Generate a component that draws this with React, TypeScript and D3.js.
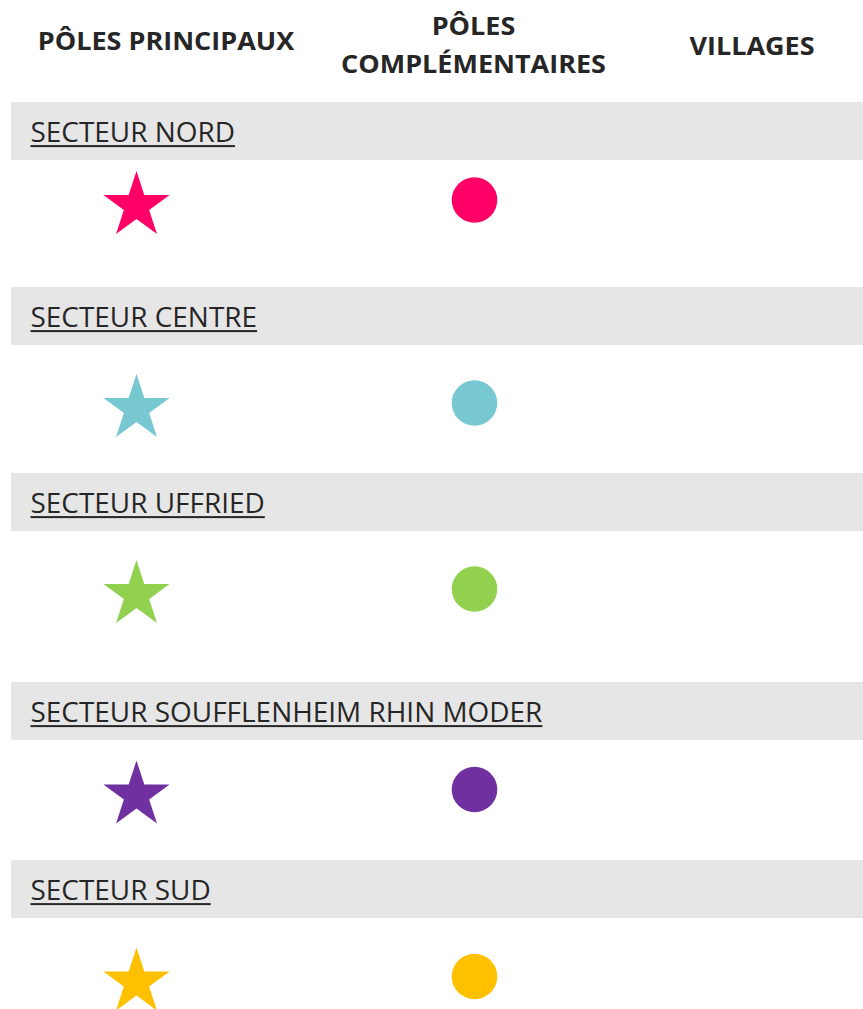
import React, { useEffect, useRef } from "react";
import * as d3 from "d3";

// ---- data ----
const headerLines: string[][] = [["PÔLES PRINCIPAUX"], ["PÔLES", "COMPLÉMENTAIRES"], ["VILLAGES"]];
const sectors = [
  "SECTEUR NORD",
  "SECTEUR CENTRE",
  "SECTEUR UFFRIED",
  "SECTEUR SOUFFLENHEIM RHIN MODER",
  "SECTEUR SUD",
];
const sectorColors = ["#FF0066", "#78C8D2", "#92D050", "#7030A0", "#FFC000"];
const columnSymbols = ["star", "circle"]; // VILLAGES column has no symbol

// ---- layout ----
const W = 863;
const H = 1009;
const bandTops = [102, 287, 473, 682, 860];
const bandHeight = 58;
const bandLeft = 11;
const symbolRowY = [200, 403, 589, 789.5, 976.5];
const headerCenterX = [166, 473.5, 752];
const headerBaselines = [[50], [35, 73], [55]];
const symbolColumnX = [136.5, 474.5];
const TEXT = "#262626";

export default function App() {
  const ref = useRef<SVGSVGElement>(null);
  useEffect(() => {
    const svg = d3.select(ref.current);
    svg.selectAll("*").remove();

    // bands
    svg
      .selectAll("rect.band")
      .data(sectors)
      .join("rect")
      .attr("class", "band")
      .attr("x", bandLeft)
      .attr("y", (_, i) => bandTops[i])
      .attr("width", W - bandLeft)
      .attr("height", bandHeight)
      .attr("fill", "#E6E6E6");

    // headers
    const hg = svg.append("g");
    const headerNodes: { node: SVGTextElement; x: number; y: number }[] = [];
    headerLines.forEach((lines, ci) => {
      lines.forEach((line, li) => {
        const t = hg
          .append("text")
          .attr("text-anchor", "middle")
          .attr("font-family", "'Open Sans', sans-serif")
          .attr("font-weight", 700)
          .attr("font-size", 25.5)
          .attr("fill", TEXT)
          .text(line);
        headerNodes.push({ node: t.node()!, x: headerCenterX[ci], y: headerBaselines[ci][li] });
      });
    });
    const refHeader = headerNodes[2].node.getComputedTextLength();
    const hScale = 265 / refHeader;
    headerNodes.forEach((h) =>
      d3.select(h.node).attr("transform", `translate(${h.x},${h.y}) scale(${hScale},1)`)
    );

    // sector labels
    const lg = svg.append("g");
    const labelNodes: SVGTextElement[] = [];
    sectors.forEach((s, i) => {
      const t = lg
        .append("text")
        .attr("font-family", "'Open Sans', sans-serif")
        .attr("font-size", 27.5)
        .attr("fill", TEXT)
        .text(s);
      labelNodes.push(t.node()!);
    });
    const longest = labelNodes[3].getComputedTextLength();
    const lScale = 512 / longest;
    labelNodes.forEach((n, i) => {
      const x = 30.5;
      const y = bandTops[i] + 39.5;
      d3.select(n).attr("transform", `translate(${x},${y}) scale(${lScale},1)`);
      const w = n.getComputedTextLength() * lScale;
      lg.append("rect")
        .attr("x", x)
        .attr("y", y + 3.6)
        .attr("width", w)
        .attr("height", 2)
        .attr("fill", TEXT);
    });

    // symbols
    const star = d3.symbol(d3.symbolStar, (34.8 * 34.8) / 0.8908130915292852)();
    const circle = d3.symbol(d3.symbolCircle, Math.PI * 22.8 * 22.8)();
    const sg = svg.append("g");
    sectors.forEach((_, i) => {
      columnSymbols.forEach((sym, ci) => {
        const dy = sym === "star" ? 5.8 : 0;
        sg.append("path")
          .attr("d", sym === "star" ? star : circle)
          .attr("transform", `translate(${symbolColumnX[ci]},${symbolRowY[i] + dy})`)
          .attr("fill", sectorColors[i]);
      });
    });
  }, []);

  return (
    <svg
      ref={ref}
      width={W}
      height={H}
      style={{ position: "absolute", left: 0, top: 0, background: "#fff" }}
    />
  );
}
